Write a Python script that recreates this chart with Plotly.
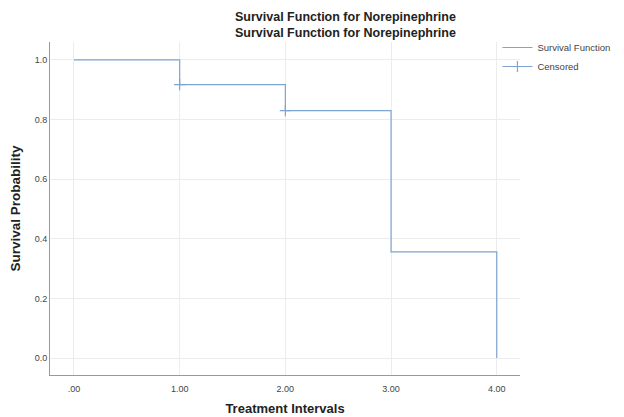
import plotly.graph_objects as go

times = [0, 1, 2, 3, 4]
survival = [1.0, 0.917, 0.83, 0.356, 0.0]
censored_t = [1, None, 2]
censored_s = [0.917, None, 0.83]
x_ticks = [0, 1, 2, 3, 4]
x_labels = [".00", "1.00", "2.00", "3.00", "4.00"]
y_ticks = [0.0, 0.2, 0.4, 0.6, 0.8, 1.0]
y_labels = ["0.0", "0.2", "0.4", "0.6", "0.8", "1.0"]
title_text = "Survival Function for Norepinephrine"

color = "#7ea4d0"
fig = go.Figure()
fig.add_trace(go.Scatter(x=times, y=survival, mode="lines", line_shape="hv",
                         line=dict(color=color, width=1.2), name="Survival Function"))
fig.add_trace(go.Scatter(x=censored_t, y=censored_s, mode="lines+markers", connectgaps=False,
                         line=dict(color=color, width=1),
                         marker=dict(symbol="cross-thin", size=8, line=dict(color=color, width=1.2), color=color),
                         name="Censored"))

fig.add_annotation(text="<b>" + title_text + "<br>" + title_text + "</b>",
                   xref="paper", yref="paper", x=0.628, y=1.052, xanchor="center", yanchor="middle",
                   showarrow=False, font=dict(size=12.5, color="#222"))

fig.update_layout(
    width=616, height=409,
    margin=dict(l=42, r=104, t=34, b=42, autoexpand=False),
    paper_bgcolor="white", plot_bgcolor="white",
    font=dict(family="Liberation Sans, Arial, sans-serif", color="#333"),
    legend=dict(x=0.952, y=1.027, xanchor="left", yanchor="top", font=dict(size=9.5, color="#444"),
                bgcolor="rgba(0,0,0,0)", tracegroupgap=0, itemwidth=30),
    showlegend=True,
)
fig.update_xaxes(range=[-0.227, 4.22], tickvals=x_ticks, ticktext=x_labels,
                 showgrid=True, gridcolor="#ececec", gridwidth=1,
                 showline=True, linecolor="#999", linewidth=1, zeroline=False,
                 ticks="outside", ticklen=5, tickcolor="rgba(0,0,0,0)", tickfont=dict(size=9, color="#444"),
                 title=dict(text="<b>Treatment Intervals</b>", font=dict(size=13, color="#222"), standoff=11))
fig.update_yaxes(range=[-0.057, 1.06], tickvals=y_ticks, ticktext=y_labels,
                 showgrid=True, gridcolor="#ececec", gridwidth=1,
                 showline=True, linecolor="#999", linewidth=1, zeroline=False,
                 ticks="", tickfont=dict(size=9, color="#444"),
                 title=dict(text="<b>Survival Probability</b>", font=dict(size=13.5, color="#222"), standoff=12))
fig.write_html("out.html")
